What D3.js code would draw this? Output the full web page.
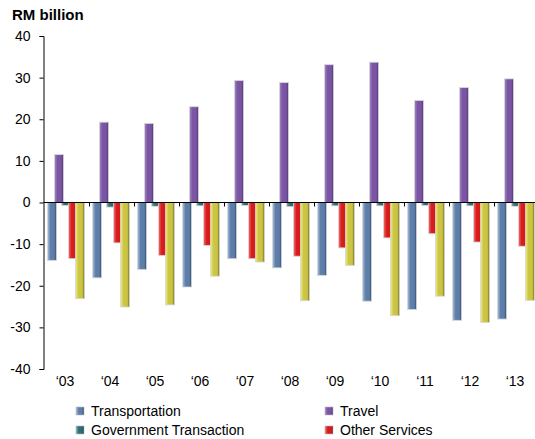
<!DOCTYPE html>
<html>
<head>
<meta charset="utf-8">
<script src="https://cdn.jsdelivr.net/npm/d3@7"></script>
<style>
  body { margin: 0; background: #fff; }
  svg { font-family: "Liberation Sans", Arial, sans-serif; }
</style>
</head>
<body>
<div id="chart"></div>
<script>
var years = ["\u201803", "\u201804", "\u201805", "\u201806", "\u201807", "\u201808", "\u201809", "\u201810", "\u201811", "\u201812", "\u201813"];
var series = ["Transportation", "Travel", "Government Transaction", "Other Services", "Income"];
var transportation = [-13.9, -18.1, -16.1, -20.3, -13.5, -15.7, -17.5, -23.7, -25.7, -28.3, -28.0];
var travel = [11.5, 19.3, 19.0, 23.0, 29.3, 28.8, 33.1, 33.7, 24.5, 27.6, 29.7];
var government = [-0.7, -1.1, -0.9, -0.8, -0.7, -1.0, -0.8, -0.8, -0.7, -0.8, -0.9];
var otherServices = [-13.5, -9.7, -12.7, -10.3, -13.5, -12.9, -10.9, -8.5, -7.5, -9.5, -10.5];
var income = [-23.1, -25.1, -24.6, -17.7, -14.3, -23.6, -15.1, -27.2, -22.5, -28.8, -23.5];
var yTicks = [40, 30, 20, 10, 0, -10, -20, -30, -40];
var legendItems = ["Transportation", "Travel", "Government Transaction", "Other Services"];

var values = {
    "Transportation": transportation,
    "Travel": travel,
    "Government Transaction": government,
    "Other Services": otherServices,
    "Income": income
};

// light, mid, dark stops for each series (cylinder look)
var shades = {
    "Transportation": ["#a9bfdb", "#5d7ea9", "#33496b"],
    "Travel": ["#a386c6", "#7a55a3", "#4f3470"],
    "Government Transaction": ["#7fb0b6", "#2e6c76", "#1d4148"],
    "Other Services": ["#f07070", "#d81c1c", "#8e0e0e"],
    "Income": ["#eeea86", "#cbc543", "#6c6a1e"]
};

var width = 535, height = 439;

var svg = d3.select("#chart").append("svg")
    .attr("width", width)
    .attr("height", height);

var defs = svg.append("defs");
series.forEach(function(s, i) {
    var g = defs.append("linearGradient")
        .attr("id", "grad" + i)
        .attr("x1", "0%").attr("x2", "100%")
        .attr("y1", "0%").attr("y2", "0%");
    g.append("stop").attr("offset", "0%").attr("stop-color", shades[s][0]);
    g.append("stop").attr("offset", "35%").attr("stop-color", shades[s][1]);
    g.append("stop").attr("offset", "75%").attr("stop-color", shades[s][1]);
    g.append("stop").attr("offset", "100%").attr("stop-color", shades[s][2]);
});

var x = d3.scaleBand()
    .domain(years)
    .range([43.5, 538.5])
    .padding(0);

var sub = d3.scaleBand()
    .domain(series)
    .range([4, 39])
    .padding(0);

var y = d3.scaleLinear()
    .domain([-40, 40])
    .range([369, 36]);

// title
svg.append("text")
    .attr("x", 12)
    .attr("y", 20)
    .attr("font-size", 15)
    .attr("font-weight", "bold")
    .attr("fill", "#000")
    .text("RM billion");

// bars
series.forEach(function(s, i) {
    svg.append("g")
        .selectAll("rect")
        .data(values[s])
        .enter().append("rect")
        .attr("x", function(d, j) { return x(years[j]) + sub(s); })
        .attr("width", sub.bandwidth() + 2)
        .attr("y", function(d) { return Math.min(y(d), y(0)); })
        .attr("height", function(d) { return Math.abs(y(d) - y(0)); })
        .attr("fill", "url(#grad" + i + ")")
        .attr("stroke", "#d6d6d6")
        .attr("stroke-width", 0.8);
});

// y axis
var yAxis = d3.axisLeft(y)
    .tickValues(yTicks)
    .tickSize(4)
    .tickPadding(9)
    .tickFormat(function(d) { return String(d); });

var ya = svg.append("g")
    .attr("transform", "translate(43.5,0)")
    .call(yAxis);
ya.select(".domain").attr("stroke", "#000");
ya.selectAll(".tick line").attr("stroke", "#000");
ya.selectAll(".tick text")
    .attr("font-size", 14)
    .attr("font-family", "Liberation Sans, Arial, sans-serif")
    .attr("fill", "#000");

// zero line with category ticks
svg.append("line")
    .attr("x1", 43.5).attr("x2", width)
    .attr("y1", y(0)).attr("y2", y(0))
    .attr("stroke", "#000")
    .attr("stroke-width", 1);

svg.append("g")
    .selectAll("line")
    .data(years.slice(1))
    .enter().append("line")
    .attr("x1", function(d) { return Math.round(x(d)) + 0.5; })
    .attr("x2", function(d) { return Math.round(x(d)) + 0.5; })
    .attr("y1", y(0))
    .attr("y2", y(0) + 4)
    .attr("stroke", "#000");

// year labels
var xAxis = d3.axisBottom(x)
    .tickSize(0)
    .tickPadding(0);

var xa = svg.append("g")
    .attr("transform", "translate(-1,376)")
    .call(xAxis);
xa.select(".domain").remove();
xa.selectAll(".tick text")
    .attr("font-size", 14)
    .attr("font-family", "Liberation Sans, Arial, sans-serif")
    .attr("fill", "#000");

// legend
var legend = svg.append("g");
var legendPos = [[76, 407], [325, 407], [76, 426], [325, 426]];
legendItems.forEach(function(s, i) {
    var idx = series.indexOf(s);
    var item = legend.append("g")
        .attr("transform", "translate(" + legendPos[i][0] + "," + legendPos[i][1] + ")");
    item.append("rect")
        .attr("width", 8)
        .attr("height", 8)
        .attr("fill", "url(#grad" + idx + ")")
        .attr("stroke", "#bbb")
        .attr("stroke-width", 0.6);
    item.append("text")
        .attr("x", 15)
        .attr("y", 9)
        .attr("font-size", 14)
        .attr("fill", "#000")
        .text(s);
});
</script>
</body>
</html>
